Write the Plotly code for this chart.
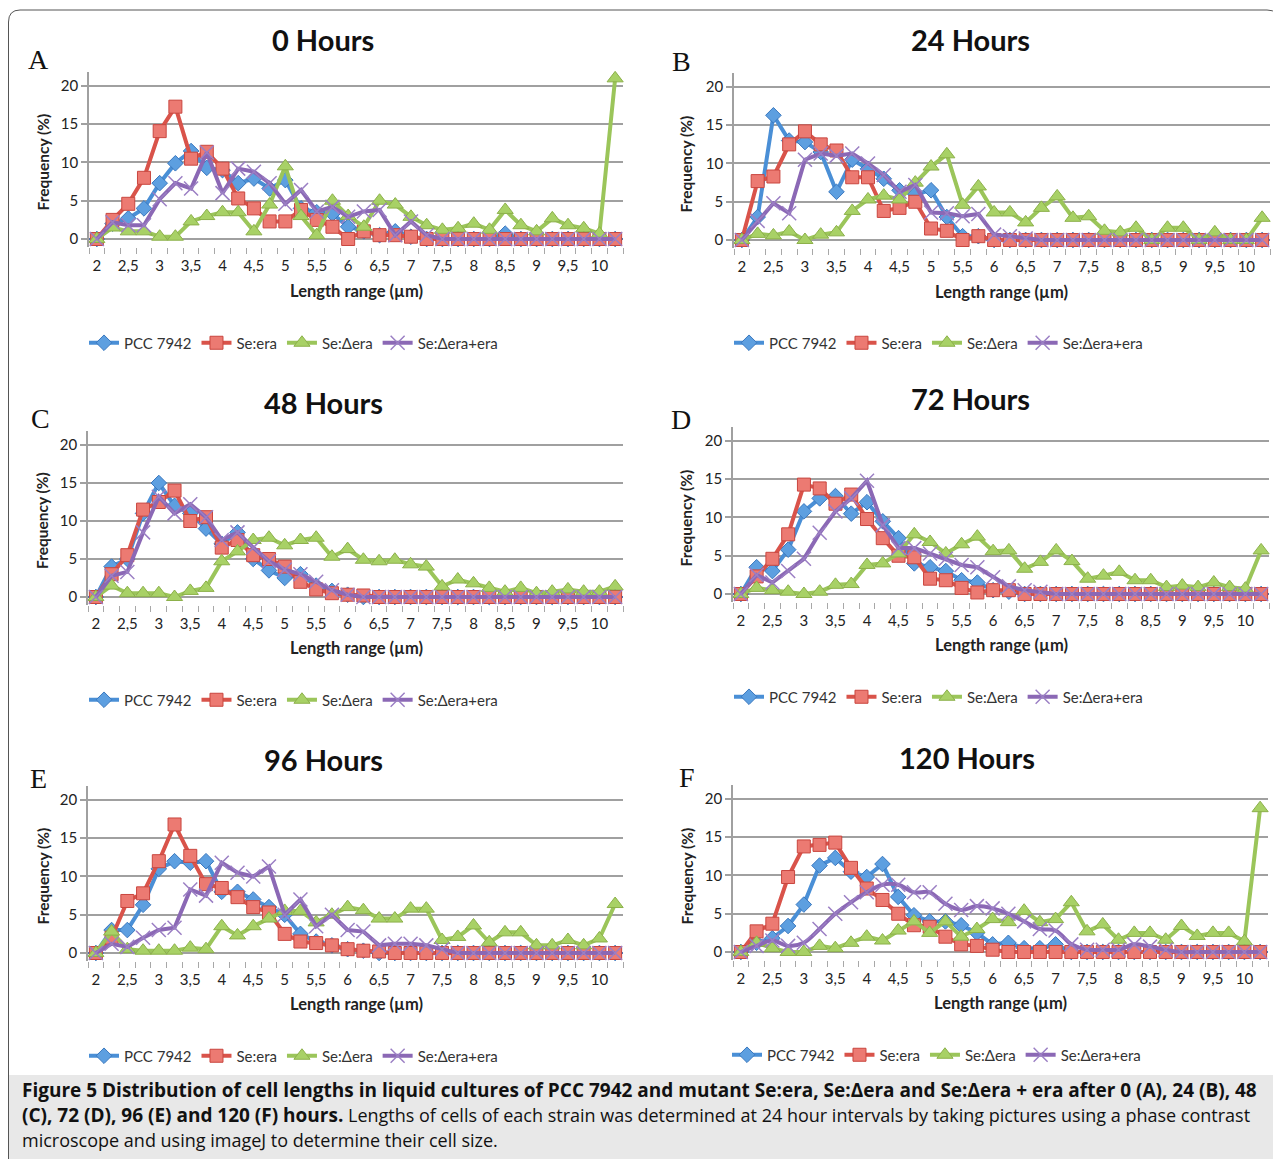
import plotly.graph_objects as go

# ---------------- data ----------------
lengths = [2, 2.25, 2.5, 2.75, 3, 3.25, 3.5, 3.75, 4, 4.25, 4.5, 4.75, 5, 5.25, 5.5, 5.75,
           6, 6.25, 6.5, 6.75, 7, 7.25, 7.5, 7.75, 8, 8.25, 8.5, 8.75, 9, 9.25, 9.5, 9.75, 10, 10.25]
tick_vals = [2, 2.5, 3, 3.5, 4, 4.5, 5, 5.5, 6, 6.5, 7, 7.5, 8, 8.5, 9, 9.5, 10]
tick_text = ["2", "2,5", "3", "3,5", "4", "4,5", "5", "5,5", "6", "6,5", "7", "7,5", "8", "8,5", "9", "9,5", "10"]
series_names = ["PCC 7942", "Se:era", "Se:Δera", "Se:Δera+era"]
panel_titles = ["0 Hours", "24 Hours", "48 Hours", "72 Hours", "96 Hours", "120 Hours"]
panel_letters = ["A", "B", "C", "D", "E", "F"]

pcc_0h = [0, 2, 2.7, 4, 7.3, 9.9, 11.5, 9.3, 9, 7.3, 7.9, 6.6, 7.7, 4, 3.5, 3.3, 1.6, 1, 0.5, 1, 0.3, 0, 0, 0, 0, 0, 0.7, 0, 0, 0, 0, 0, 0, 0]
era_0h = [0, 2.5, 4.6, 8, 14.1, 17.3, 10.5, 11.4, 9.2, 5.3, 4, 2.3, 2.3, 3.8, 2.5, 1.6, 0, 1, 0.5, 0.5, 0.3, 0, 0, 0, 0, 0, 0, 0, 0, 0, 0, 0, 0, 0]
del_0h = [0, 1.5, 1, 1, 0.3, 0.3, 2.3, 3, 3.5, 3.5, 1, 4.5, 9.5, 3, 0.5, 5, 3, 1.6, 5, 4.5, 2.9, 1.8, 1.2, 1.4, 2, 1.2, 3.8, 1.8, 1, 2.7, 1.8, 1.4, 0.7, 21]
comp_0h = [0, 2.2, 1.8, 1.8, 5.2, 7.3, 6.6, 11.3, 6, 9.2, 8.8, 7.3, 4.6, 6.4, 3.6, 4.2, 2.9, 3.6, 3.8, 0.5, 2.3, 0.5, 0, 0, 0, 0, 0, 0, 0, 0, 0, 0, 0, 0]

pcc_24h = [0, 3, 16.3, 13, 12.8, 11.5, 6.3, 10.5, 9.3, 8, 6.5, 6, 6.5, 3, 0.5, 0.5, 0, 0, 0, 0, 0, 0, 0, 0, 0, 0, 0, 0, 0, 0, 0, 0, 0, 0]
era_24h = [0, 7.7, 8.3, 12.5, 14.2, 12.5, 11.7, 8.2, 8.2, 3.8, 4.2, 5, 1.5, 1.2, 0, 0.5, 0, 0, 0, 0, 0, 0, 0, 0, 0, 0, 0, 0, 0, 0, 0, 0, 0, 0]
del_24h = [0, 0.8, 0.6, 1.1, 0, 0.7, 1, 3.8, 5.3, 5.8, 5.3, 7.5, 9.6, 11.2, 4.6, 7, 3.6, 3.6, 2.3, 4.2, 5.7, 2.9, 3.1, 1.2, 1, 1.6, 0, 1.6, 1.6, 0, 1, 0, 0, 2.9]
comp_24h = [0, 2.5, 4.8, 3.5, 10.5, 11.3, 11, 11.3, 10, 8.5, 6.3, 7.2, 3.6, 3.5, 3.1, 3.4, 0.7, 0.5, 0.2, 0, 0, 0, 0, 0, 0, 0, 0, 0, 0, 0, 0, 0, 0, 0]

pcc_48h = [0, 4, 5, 11, 15, 12, 11, 9, 7, 8.5, 5, 3.5, 2.5, 3, 1.5, 0.8, 0.3, 0, 0, 0, 0, 0, 0, 0, 0, 0, 0, 0, 0, 0, 0, 0, 0, 0]
era_48h = [0, 3, 5.5, 11.5, 12.5, 14, 10, 10.5, 6.5, 7.5, 5.5, 5, 4, 2, 1, 0.5, 0.3, 0.2, 0, 0, 0, 0, 0, 0, 0, 0, 0, 0, 0, 0, 0, 0, 0, 0]
del_48h = [0, 1.5, 0.5, 0.5, 0.5, 0, 0.8, 1.2, 4.7, 6, 7.5, 7.8, 6.8, 7.5, 7.8, 5.3, 6.3, 4.9, 4.7, 4.9, 4.3, 4, 1.4, 2.3, 1.8, 1.2, 0.7, 1.2, 0.5, 0.7, 1, 0.7, 0.7, 1.4]
comp_48h = [0, 2.8, 3.3, 8.5, 13.2, 11, 12.2, 10.5, 7.5, 8.5, 6.5, 4.7, 3.6, 3, 2, 0.9, 0.3, 0, 0, 0, 0, 0, 0, 0, 0, 0, 0, 0, 0, 0, 0, 0, 0, 0]

pcc_72h = [0, 3.5, 3, 5.8, 10.8, 12.5, 12.8, 10.5, 12, 9.5, 7.3, 4, 3.5, 3, 1.8, 1.5, 0.5, 0.3, 0, 0, 0, 0, 0, 0, 0, 0, 0, 0, 0, 0, 0, 0, 0, 0]
era_72h = [0, 2.3, 4.6, 7.8, 14.3, 13.8, 11.8, 13, 9.8, 7.3, 5, 4.8, 2, 1.8, 0.8, 0.2, 0.5, 0.5, 0, 0, 0, 0, 0, 0, 0, 0, 0, 0, 0, 0, 0, 0, 0, 0]
del_72h = [0, 0.8, 0.5, 0.3, 0, 0.3, 1.2, 1.3, 3.8, 4, 5.3, 7.8, 6.8, 5.3, 6.5, 7.5, 5.6, 5.7, 3.3, 4.2, 5.7, 4.3, 2, 2.4, 2.9, 1.8, 1.8, 0.9, 1.1, 0.9, 1.5, 0.9, 0.7, 5.7]
comp_72h = [0, 2.5, 1.5, 3, 4.6, 8, 10.8, 12.5, 14.8, 9, 6, 6, 5.3, 4.6, 3.8, 3.5, 2.2, 1, 0.5, 0.3, 0, 0, 0, 0, 0, 0, 0, 0, 0, 0, 0, 0, 0, 0]

pcc_96h = [0, 3, 3, 6.3, 11, 12, 11.8, 12, 8, 8, 7, 6, 5, 2.5, 1.5, 1, 0.5, 0.3, 0, 0, 0, 0, 0, 0, 0, 0, 0, 0, 0, 0, 0, 0, 0, 0]
era_96h = [0, 2, 6.8, 7.8, 12, 16.8, 12.7, 9, 8.5, 7.3, 6, 5.3, 2.5, 1.5, 1.3, 1, 0.5, 0.3, 0.2, 0, 0, 0, 0, 0, 0, 0, 0, 0, 0, 0, 0, 0, 0, 0]
del_96h = [0, 2.8, 0.5, 0.3, 0.3, 0.3, 0.7, 0.5, 3.5, 2.3, 3.5, 4.5, 5.5, 5.5, 4, 5, 6, 5.6, 4.5, 4.5, 5.8, 5.8, 1.7, 2.1, 3.6, 1.4, 2.7, 2.7, 1, 1, 1.7, 1, 1.9, 6.4]
comp_96h = [0, 1.2, 0.8, 2, 3, 3.3, 8.3, 7.5, 11.8, 10.5, 10, 11.3, 5, 7, 3.5, 5, 3, 2.8, 1, 1.2, 1.2, 1, 0.5, 0, 0, 0, 0, 0, 0, 0, 0, 0, 0, 0]

pcc_120h = [0, 1.2, 1.8, 3.4, 6.2, 11.3, 12.3, 10.5, 9.8, 11.5, 7.2, 4.8, 4, 4, 3.5, 2.5, 1, 1.2, 0.5, 0.5, 1, 0, 0, 0, 0, 0, 0, 0, 0, 0, 0, 0, 0, 0]
era_120h = [0, 2.7, 3.7, 9.8, 13.8, 14, 14.3, 11, 8.3, 6.8, 5, 3.5, 3.3, 2, 1, 0.8, 0.3, 0, 0, 0, 0, 0, 0, 0, 0, 0, 0, 0, 0, 0, 0, 0, 0, 0]
del_120h = [0, 1.2, 0.5, 0, 0, 0.8, 0.5, 1.2, 2, 1.5, 2.8, 4, 2.5, 4, 2, 3, 4.3, 3.9, 5.4, 3.9, 4.3, 6.5, 2.7, 3.6, 1.6, 2.5, 2.5, 1.6, 3.4, 2.1, 2.5, 2.5, 1.4, 18.8]
comp_120h = [0, 0.8, 1.5, 0.8, 1.2, 3, 5, 6.5, 7.8, 8.8, 8.8, 7.8, 7.8, 6.3, 5.5, 6, 5.7, 5, 4, 3, 2.8, 1, 0.3, 0.3, 0.3, 1, 0.7, 0.3, 0, 0, 0, 0, 0, 0]

panel_data = [
    [pcc_0h, era_0h, del_0h, comp_0h],
    [pcc_24h, era_24h, del_24h, comp_24h],
    [pcc_48h, era_48h, del_48h, comp_48h],
    [pcc_72h, era_72h, del_72h, comp_72h],
    [pcc_96h, era_96h, del_96h, comp_96h],
    [pcc_120h, era_120h, del_120h, comp_120h],
]

# ---------------- layout helpers ----------------
# The page body has an 8px margin, so the figure starts at (8, 8) in the window.
OFF = 8
W, H = 1281 - OFF, 1159 - OFF


def fx(px):
    return (px - OFF) / W


def fy(py):
    return 1 - (py - OFF) / H


YMIN, YMAX = -1.05, 21.85
FONT = "Lato"

# pixel geometry (window coordinates) of each panel
geom = [
    dict(x0=89, x1=623, y20=86, y0=239, title=(323, 40), letter=(38, 60), ytit=42, xtit=(356, 291), leg=(84, 343)),
    dict(x0=734, x1=1270, y20=87, y0=240, title=(970, 40), letter=(681, 62), ytit=686, xtit=(1002, 292), leg=(729, 343)),
    dict(x0=88, x1=623, y20=445, y0=597, title=(323, 402), letter=(40, 418), ytit=42, xtit=(356, 648), leg=(84, 700)),
    dict(x0=733, x1=1269, y20=441, y0=594, title=(970, 398), letter=(681, 420), ytit=686, xtit=(1002, 645), leg=(729, 697)),
    dict(x0=88, x1=623, y20=800, y0=953, title=(323, 759), letter=(38, 778), ytit=42, xtit=(356, 1004), leg=(84, 1056)),
    dict(x0=733, x1=1268, y20=799, y0=952, title=(967, 757), letter=(687, 777), ytit=686, xtit=(1000, 1003), leg=(727, 1055)),
]

styles = [
    dict(line="#4a8fd6", symbol="diamond", size=12, fill="#5d9fe0", edge="#3a78bf", lw=1),
    dict(line="#d9534a", symbol="square", size=13, fill="#ec7a72", edge="#c9463f", lw=1),
    dict(line="#9bc55a", symbol="triangle-up", size=14, fill="#a8d166", edge="#8cb04a", lw=1),
    dict(line="#8b68b5", symbol="x-thin", size=14, fill="#9b7fc4", edge="#9b7fc4", lw=1.5),
]

boundaries = [v - 0.125 for v in lengths] + [lengths[-1] + 0.125]

fig = go.Figure()
layout = {}
annotations = []
shapes = []

for n, (g, data) in enumerate(zip(geom, panel_data), start=1):
    sfx = "" if n == 1 else str(n)
    xa, ya = "x" + sfx, "y" + sfx
    leg = "legend" + sfx
    for k, (name, vals, st) in enumerate(zip(series_names, data, styles)):
        shape = "spline" if (n == 6 and k == 3) else "linear"
        fig.add_trace(go.Scatter(
            x=lengths, y=vals, mode="lines+markers", name=name,
            xaxis=xa, yaxis=ya, legend=leg, cliponaxis=False,
            line=dict(color=st["line"], width=4, shape=shape),
            marker=dict(symbol=st["symbol"], size=st["size"], color=st["fill"],
                        line=dict(color=st["edge"], width=st["lw"])),
        ))
    unit = (g["y0"] - g["y20"]) / 20.0
    top = g["y20"] - (YMAX - 20) * unit
    bot = g["y0"] - YMIN * unit
    layout["xaxis" + sfx] = dict(
        domain=[fx(g["x0"]), fx(g["x1"])], anchor=ya, range=[1.875, 10.375],
        tickmode="array", tickvals=tick_vals, ticktext=tick_text, ticks="",
        ticklabelstandoff=8,
        showgrid=False, showline=False, zeroline=False,
        tickfont=dict(family=FONT, size=15, color="#222"),
        minor=dict(tickmode="array", tickvals=boundaries, ticks="outside", ticklen=6,
                   tickcolor="#a8a8a8", tickwidth=1.2, showgrid=False),
    )
    layout["yaxis" + sfx] = dict(
        domain=[fy(bot), fy(top)], anchor=xa, range=[YMIN, YMAX],
        tickmode="array", tickvals=[0, 5, 10, 15, 20],
        showgrid=True, gridcolor="#a0a0a0", gridwidth=1.5,
        showline=True, linecolor="#a0a0a0", linewidth=1.5,
        ticks="outside", ticklen=6, tickcolor="#a0a0a0", tickwidth=1.5,
        zeroline=False, tickfont=dict(family=FONT, size=15, color="#222"),
    )
    layout[leg] = dict(
        orientation="h", x=fx(g["leg"][0]), y=fy(g["leg"][1]), xanchor="left", yanchor="middle",
        font=dict(family=FONT, size=15, color="#333"), bgcolor="rgba(0,0,0,0)",
        itemclick=False, itemdoubleclick=False,
    )
    annotations.append(dict(text="<b>" + panel_titles[n - 1] + "</b>", x=fx(g["title"][0]), y=fy(g["title"][1]),
                            xref="paper", yref="paper", showarrow=False, xanchor="center", yanchor="middle",
                            font=dict(family=FONT, size=29, color="#111")))
    annotations.append(dict(text=panel_letters[n - 1], x=fx(g["letter"][0]), y=fy(g["letter"][1]),
                            xref="paper", yref="paper", showarrow=False, xanchor="center", yanchor="middle",
                            font=dict(family="Liberation Serif", size=28, color="#111")))
    annotations.append(dict(text="<b>Frequency (%)</b>", x=fx(g["ytit"]), y=fy((g["y20"] + g["y0"]) / 2),
                            xref="paper", yref="paper", showarrow=False, textangle=-90,
                            xanchor="center", yanchor="middle",
                            font=dict(family=FONT, size=15.5, color="#222")))
    annotations.append(dict(text="<b>Length range (µm)</b>", x=fx(g["xtit"][0]), y=fy(g["xtit"][1]),
                            xref="paper", yref="paper", showarrow=False, xanchor="center", yanchor="middle",
                            font=dict(family=FONT, size=16.5, color="#222")))

# caption
B = '<span style="font-size:19px"><b>{}</b></span>'
cap_lines = [
    B.format("Figure 5 Distribution of cell lengths in liquid cultures of PCC 7942 and mutant Se:era, Se:Δera and Se:Δera + era after 0 (A), 24 (B), 48"),
    B.format("(C), 72 (D), 96 (E) and 120 (F) hours.") + " Lengths of cells of each strain was determined at 24 hour intervals by taking pictures using a phase contrast",
    "microscope and using imageJ to determine their cell size.",
]
for i, t in enumerate(cap_lines):
    annotations.append(dict(text=t, x=fx(20), y=fy(1090 + 25 * i), xref="paper", yref="paper",
                            showarrow=False, xanchor="left", yanchor="middle",
                            font=dict(family="Open Sans", size=18, color="#111")))

shapes.append(dict(type="rect", xref="paper", yref="paper", x0=fx(9), x1=fx(1281), y0=fy(1159), y1=fy(1075),
                   fillcolor="#e8e8e8", line=dict(width=0), layer="below"))
border = "M {a},{b} L {a},{c} Q {a},{d} {e},{d} L {f},{d} Q {g},{d} {g},{c} L {g},{b}".format(
    a=fx(8.5), b=fy(1159), c=fy(22), d=fy(10), e=fx(20), f=fx(1267), g=fx(1279))
shapes.append(dict(type="path", xref="paper", yref="paper", path=border,
                   line=dict(color="#555", width=1)))

fig.update_layout(
    width=W, height=H, margin=dict(l=0, r=0, t=0, b=0),
    paper_bgcolor="white", plot_bgcolor="white",
    showlegend=True, annotations=annotations, shapes=shapes,
    **layout,
)

fig.write_html("out.html")
